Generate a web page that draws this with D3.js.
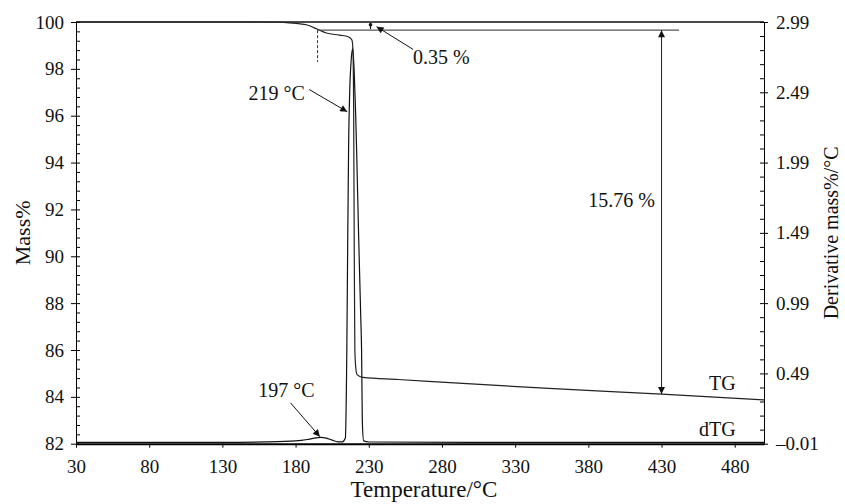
<!DOCTYPE html>
<html>
<head>
<meta charset="utf-8">
<script src="https://cdn.jsdelivr.net/npm/d3@7"></script>
<style>
  body { margin: 0; background: #fff; }
  text { font-family: "Liberation Serif", "Times New Roman", serif; fill: #111; }
</style>
</head>
<body>
<div id="chart"></div>
<script>
// TG curve (mass %)
let tgTemp = [30, 100, 150, 170, 176, 182, 188, 195, 201, 210, 216, 218.5, 219.2, 219.7, 220.1, 220.5, 221.2, 222, 226, 250, 300, 353, 430, 500]
let tgMass = [100, 100, 100, 99.99, 99.96, 99.93, 99.87, 99.69, 99.53, 99.44, 99.37, 99.23, 98.8, 96, 90, 86, 85.2, 84.95, 84.83, 84.74, 84.55, 84.36, 84.12, 83.87]

// dTG curve (derivative mass %/°C)
let dtgTemp = [30, 130, 160, 180, 188, 193, 197, 201, 205, 209, 212, 214, 215, 215.6, 216.2, 217, 218, 219, 220, 221, 221.7, 223, 224.5, 225.1, 225.6, 226.5, 230, 300, 500]
let dtgVal = [0, 0, 0.003, 0.01, 0.02, 0.03, 0.035, 0.03, 0.015, 0.003, 0.003, 0.03, 0.65, 1.4, 2.08, 2.5, 2.72, 2.8, 2.65, 2.35, 2.08, 1.5, 0.9, 0.65, 0.15, 0.01, 0.002, 0, 0]

// ticks
let tempTicks = [30, 80, 130, 180, 230, 280, 330, 380, 430, 480]
let massTicks = [82, 84, 86, 88, 90, 92, 94, 96, 98, 100]
let derTicks = [-0.01, 0.49, 0.99, 1.49, 1.99, 2.49, 2.99]
let derLabels = ["\u20130.01", "0.49", "0.99", "1.49", "1.99", "2.49", "2.99"]

// annotation values
let onsetTemp = 195, onsetMass = 99.65, onsetLow = 98.29
let refLineEnd = 442
let lossTemp = 430, lossBottom = 84.12

let width = 845, height = 504
let margin = {top: 22, right: 81, bottom: 61, left: 76}

let svg = d3.select("#chart").append("svg")
    .attr("width", width)
    .attr("height", height)

let x = d3.scaleLinear().domain([30, 500]).range([margin.left, width - margin.right])
let yMass = d3.scaleLinear().domain([82, 100]).range([height - margin.bottom + 0.7, margin.top])
let yDer = d3.scaleLinear().domain([-0.01, 2.99]).range([height - margin.bottom + 0.7, margin.top])

let defs = svg.append("defs")
defs.append("marker")
    .attr("id", "arr")
    .attr("viewBox", "0 0 10 10")
    .attr("refX", 10).attr("refY", 5)
    .attr("markerWidth", 9).attr("markerHeight", 7)
    .attr("markerUnits", "userSpaceOnUse")
    .attr("orient", "auto-start-reverse")
  .append("path")
    .attr("d", "M0,0L10,5L0,10Z")
    .attr("fill", "#111")

// frame top
svg.append("line")
    .attr("x1", x(30)).attr("x2", x(500))
    .attr("y1", yMass(100)).attr("y2", yMass(100))
    .attr("stroke", "#111").attr("stroke-width", 1.3)

// axes
let tickFont = g => g
    .attr("font-family", "Liberation Serif")
    .attr("font-size", 19)
    .call(g => g.selectAll("text")
        .style("font-family", "Liberation Serif")
        .style("font-size", "19px")
        .attr("fill", "#111"))

svg.append("g")
    .attr("transform", `translate(0,${yMass(82)})`)
    .call(d3.axisBottom(x).tickValues(tempTicks).tickSize(4).tickPadding(12).tickSizeOuter(0))
    .call(g => g.select(".domain").attr("stroke-width", 2))
    .call(tickFont)

svg.append("g")
    .attr("transform", `translate(${x(30)},0)`)
    .call(d3.axisLeft(yMass).tickValues(massTicks).tickSize(5).tickPadding(7).tickSizeOuter(0))
    .call(tickFont)

svg.append("g")
    .attr("transform", `translate(${x(30)},0)`)
    .call(d3.axisRight(yMass).tickValues(d3.range(82, 100.01, 0.4)).tickSize(4).tickFormat("").tickSizeOuter(0))
    .call(g => g.select(".domain").remove())

svg.append("g")
    .attr("transform", `translate(${x(500)},0)`)
    .call(d3.axisRight(yDer).tickValues(derTicks).tickSize(4).tickPadding(8).tickSizeOuter(0)
        .tickFormat((d, i) => derLabels[i]))
    .call(tickFont)

svg.append("g")
    .attr("transform", `translate(${x(500)},0)`)
    .call(d3.axisLeft(yDer).tickValues(d3.range(-0.01, 2.995, 0.1)).tickSize(4).tickFormat("").tickSizeOuter(0))
    .call(g => g.select(".domain").remove())

// axis titles
svg.append("text")
    .attr("x", (x(30) + x(500)) / 2 + 4)
    .attr("y", 497)
    .attr("text-anchor", "middle")
    .style("font-size", "23px")
    .text("Temperature/°C")

svg.append("text")
    .attr("transform", `translate(30,${(yMass(82) + yMass(100)) / 2}) rotate(-90)`)
    .attr("text-anchor", "middle")
    .style("font-size", "22px")
    .text("Mass%")

svg.append("text")
    .attr("transform", `translate(838,${(yMass(82) + yMass(100)) / 2}) rotate(-90)`)
    .attr("text-anchor", "middle")
    .style("font-size", "20px")
    .text("Derivative mass%/°C")

// curves
let tgLine = d3.line()
    .x(i => x(tgTemp[i]))
    .y(i => yMass(tgMass[i]))
    .curve(d3.curveMonotoneX)

let dtgLine = d3.line()
    .x(i => x(dtgTemp[i]))
    .y(i => yDer(dtgVal[i]))
    .curve(d3.curveMonotoneX)

svg.append("path")
    .attr("d", dtgLine(d3.range(dtgTemp.length)))
    .attr("fill", "none").attr("stroke", "#111").attr("stroke-width", 1.2)

svg.append("path")
    .attr("d", tgLine(d3.range(tgTemp.length)))
    .attr("fill", "none").attr("stroke", "#222").attr("stroke-width", 1.2)

// reference line at onset mass and dashed onset marker
svg.append("line")
    .attr("x1", x(onsetTemp)).attr("x2", x(refLineEnd))
    .attr("y1", yMass(onsetMass)).attr("y2", yMass(onsetMass))
    .attr("stroke", "#555").attr("stroke-width", 1.2)

svg.append("line")
    .attr("x1", x(onsetTemp)).attr("x2", x(onsetTemp))
    .attr("y1", yMass(onsetMass)).attr("y2", yMass(onsetLow))
    .attr("stroke", "#333").attr("stroke-width", 1).attr("stroke-dasharray", "3,2")

// 15.76 % double arrow
svg.append("line")
    .attr("x1", x(lossTemp)).attr("x2", x(lossTemp))
    .attr("y1", yMass(onsetMass)).attr("y2", yMass(lossBottom))
    .attr("stroke", "#222").attr("stroke-width", 1)
    .attr("marker-start", "url(#arr)").attr("marker-end", "url(#arr)")

// 0.35 % small marker between 100 and onset line
svg.append("line")
    .attr("x1", x(231.2)).attr("x2", x(231.2))
    .attr("y1", yMass(99.96)).attr("y2", yMass(99.7))
    .attr("stroke", "#111").attr("stroke-width", 1.2)
svg.append("circle")
    .attr("cx", x(231.2)).attr("cy", yMass(99.88)).attr("r", 1.8)
    .attr("fill", "#111")

// leader arrows
let arrows = [
    {from: [260.3, 98.83], to: [235.3, 99.8]},
    {from: [189.3, 97.12], to: [215.3, 96.17]},
    {from: [176.6, 83.74], to: [196.6, 82.3]}
]
svg.append("g").selectAll("line")
    .data(arrows)
    .join("line")
    .attr("x1", d => x(d.from[0])).attr("y1", d => yMass(d.from[1]))
    .attr("x2", d => x(d.to[0])).attr("y2", d => yMass(d.to[1]))
    .attr("stroke", "#111").attr("stroke-width", 1)
    .attr("marker-end", "url(#arr)")

// labels
let labels = [
    {t: 260.3, m: 98.22, text: "0.35 %", anchor: "start"},
    {t: 186.4, m: 96.67, text: "219 °C", anchor: "end"},
    {t: 173.7, m: 83.98, text: "197 °C", anchor: "middle"},
    {t: 425.4, m: 92.09, text: "15.76 %", anchor: "end"},
    {t: 480.7, m: 84.31, text: "TG", anchor: "end"},
    {t: 480.7, m: 82.34, text: "dTG", anchor: "end"}
]
svg.append("g").selectAll("text")
    .data(labels)
    .join("text")
    .attr("x", d => x(d.t))
    .attr("y", d => yMass(d.m))
    .attr("text-anchor", d => d.anchor)
    .style("font-size", "20px")
    .text(d => d.text)
</script>
</body>
</html>
